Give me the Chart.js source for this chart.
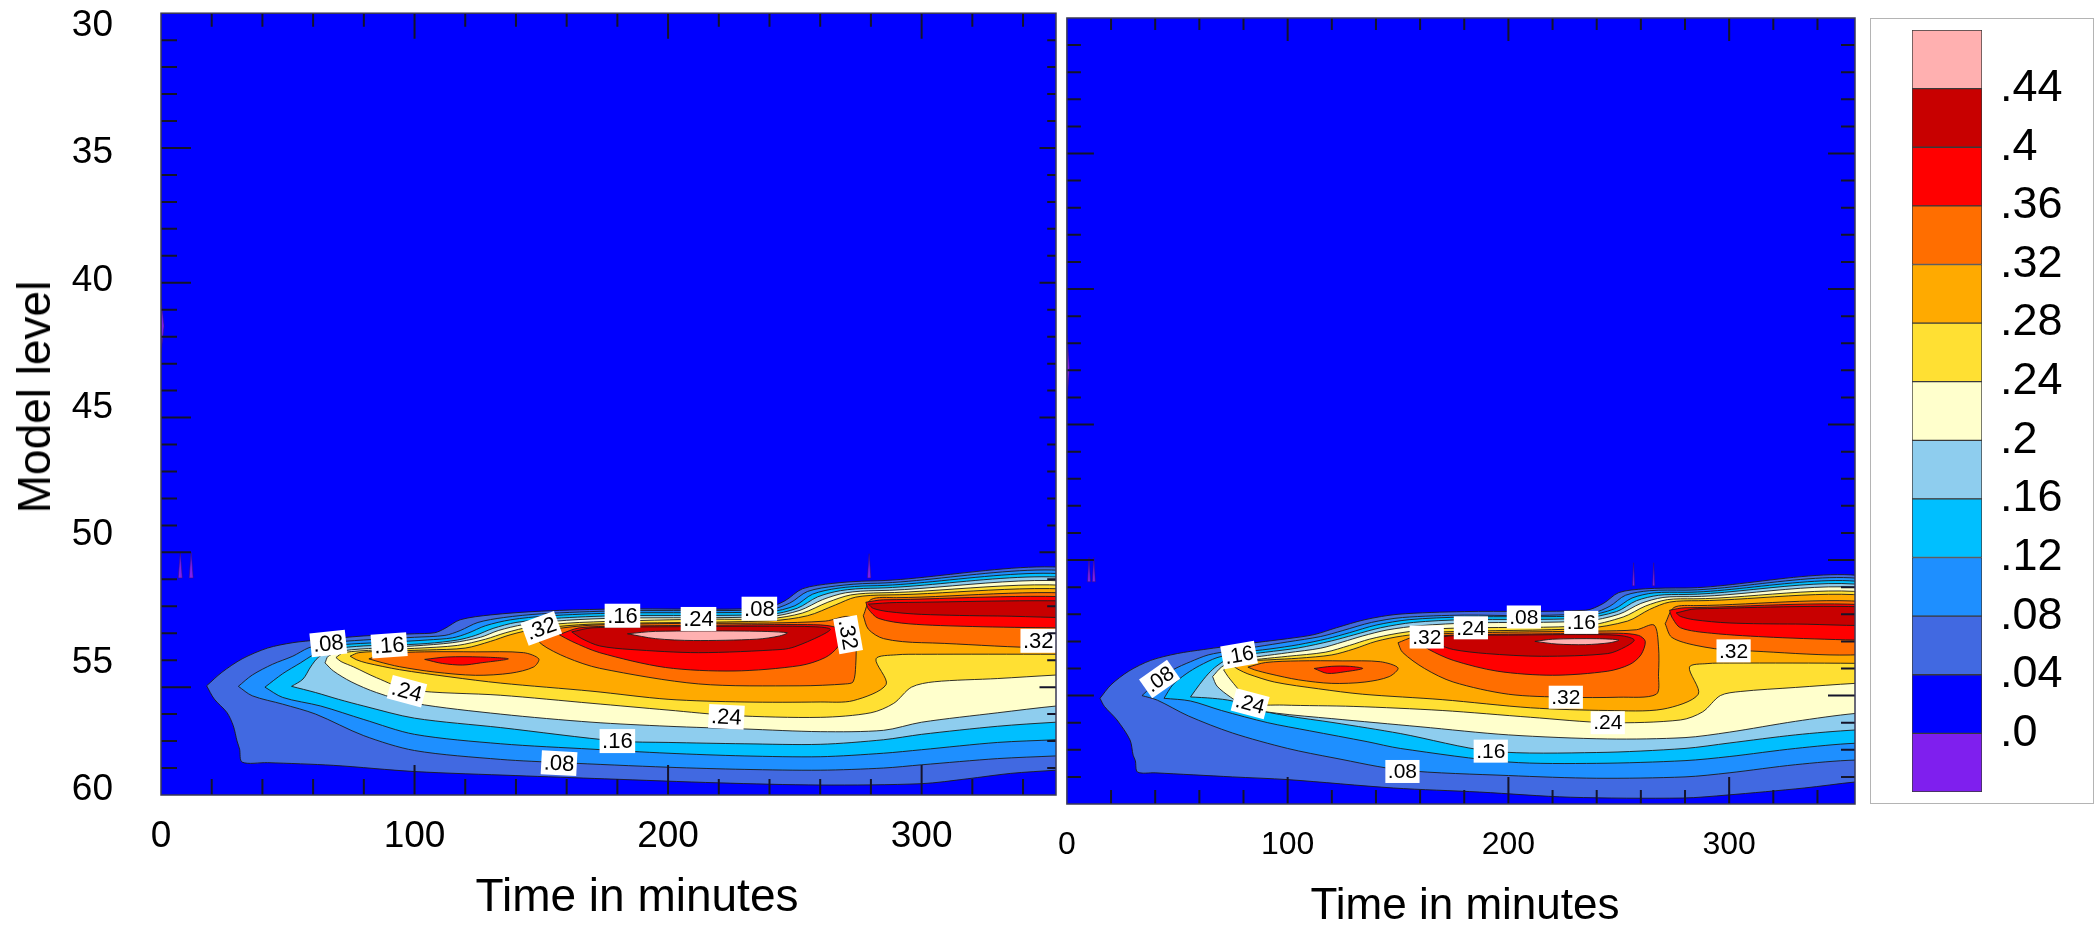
<!DOCTYPE html>
<html>
<head>
<meta charset="utf-8">
<script src="https://cdn.jsdelivr.net/npm/chart.js@4.4.1/dist/chart.umd.min.js"></script>
<style>
  body { margin: 0; width: 2095px; height: 926px; position: relative; overflow: hidden; background: #fff;
         font-family: "Liberation Sans", Arial, sans-serif; }
  canvas { position: absolute; }
  .ttl { position: absolute; white-space: nowrap; color: #000; line-height: 1; transform: translate(-50%, -50%); }
  #barbox { position: absolute; left: 1870px; top: 18px; width: 224px; height: 786px; box-sizing: border-box;
            border: 1.5px solid #b4b4b4; }
</style>
</head>
<body>
<canvas id="left" width="1062" height="926" style="left:0;top:0"></canvas>
<canvas id="right" width="830" height="926" style="left:1040px;top:0"></canvas>
<div id="barbox"></div>
<canvas id="bar" width="225" height="786" style="left:1870px;top:18px"></canvas>
<div class="ttl" style="left:34px;top:397px;font-size:46px;transform:translate(-50%,-50%) rotate(-90deg)">Model level</div>
<div class="ttl" style="left:637px;top:895px;font-size:46px">Time in minutes</div>
<div class="ttl" style="left:1465px;top:904px;font-size:44px">Time in minutes</div>
<script>
// contour levels (also the colour bar ticks) and the fill of each band, lowest first
const levels = [0, 0.04, 0.08, 0.12, 0.16, 0.2, 0.24, 0.28, 0.32, 0.36, 0.4, 0.44];
const bandColors = ['#7f1fee', '#0000ff', '#4169e1', '#1e8fff', '#00bfff', '#8ecdee',
                    '#ffffcc', '#ffe033', '#ffaa00', '#ff6e00', '#ff0000', '#c80000', '#ffb0b0'];
const timeTicks = [0, 100, 200, 300];
const levelTicks = [30, 35, 40, 45, 50, 55, 60];

// ---- left run: contour rings, [minutes, model level], region >= level ----
const L04 = [[18,54.95],[24,54.45],[32,53.95],[42,53.55],[52,53.35],[62,53.25],[80,53.1],[100,53.02],[108,52.98],[112,52.82],[118,52.5],[130,52.32],[150,52.18],[180,52.1],[238,52.07],[246,51.8],[253,51.35],[265,51.15],[280,51.06],[375,51.06],
  [375,57.95],[353,58.08],[335,58.2],[318,58.4],[300,58.58],[260,58.63],[220,58.55],[175,58.4],[140,58.28],[100,58.13],[68,57.9],[42,57.8],[32,57.78],[31,57.3],[30,57.0],[28.5,56.43],[26,55.94],[21,55.44]];
const L08 = [[30.5,54.97],[36,54.55],[44,54.15],[52,53.85],[58,53.55],[65,53.37],[80,53.25],[100,53.15],[112,53.08],[118,52.9],[125,52.6],[135,52.42],[150,52.28],[180,52.17],[240,52.12],[248,51.88],[255,51.45],[266,51.25],[280,51.15],[375,51.15],
  [375,57.45],[353,57.55],[330,57.65],[300,57.88],[285,58.0],[260,58.08],[230,58.05],[200,57.97],[158,57.8],[134,57.68],[100,57.35],[80,56.8],[61,56.0],[48,55.63],[36,55.32]];
const L12 = [[41,55.0],[48,54.5],[55,54.1],[60,53.8],[66,53.5],[75,53.4],[90,53.33],[105,53.25],[115,53.17],[121,53.0],[128,52.72],[138,52.5],[152,52.36],[180,52.25],[240,52.2],[250,51.98],[257,51.55],[267,51.33],[280,51.24],[375,51.24],
  [375,56.85],[353,56.95],[330,57.05],[300,57.32],[285,57.45],[260,57.58],[230,57.55],[200,57.45],[170,57.3],[134,57.1],[100,56.75],[80,56.2],[63,55.7],[48,55.38]];
const L16 = [[51.5,54.97],[56,54.7],[59,54.25],[62,53.9],[68,53.6],[80,53.47],[90,53.45],[105,53.38],[117,53.25],[124,53.08],[131,52.82],[140,52.6],[155,52.45],[180,52.35],[240,52.3],[251,52.07],[259,51.65],[268,51.42],[280,51.33],[375,51.33],
  [375,56.2],[353,56.3],[330,56.45],[300,56.75],[285,56.95],[260,57.12],[230,57.1],[200,57.05],[180,57.0],[134,56.5],[100,56.15],[80,55.7],[70,55.45],[61,55.2]];
const L20 = [[64.7,54.1],[66,53.85],[72,53.65],[85,53.55],[100,53.47],[115,53.35],[126,53.15],[133,52.9],[143,52.68],[160,52.52],[180,52.44],[240,52.38],[252,52.15],[261,51.75],[270,51.5],[282,51.42],[375,51.42],
  [375,55.55],[353,55.7],[330,55.95],[300,56.3],[285,56.6],[260,56.65],[230,56.55],[200,56.45],[170,56.3],[134,56.0],[100,55.6],[85,55.2],[75,54.8],[68,54.4]];
const L24 = [[69,53.9],[72,53.72],[85,53.62],[100,53.56],[117,53.45],[128,53.22],[136,52.98],[146,52.76],[165,52.6],[212,52.48],[240,52.46],[253,52.25],[263,51.85],[272,51.58],[284,51.5],[375,51.5],
  [375,54.45],[353,54.55],[330,54.68],[305,54.8],[296,55.0],[289,55.6],[280,55.95],[260,56.12],[225,56.05],[200,55.85],[170,55.6],[134,55.3],[98,55.1],[85,54.65],[76,54.25],[71,54.05]];
const L28 = [[74.6,53.85],[78,53.72],[90,53.66],[105,53.62],[120,53.55],[130,53.3],[138,53.05],[148,52.84],[170,52.66],[240,52.54],[255,52.35],[266,51.95],[274,51.66],[286,51.58],[375,51.58],
  [375,53.8],[353,53.78],[300,53.78],[290,53.8],[282,53.95],[286,54.9],[273,55.5],[260,55.55],[230,55.55],[200,55.45],[170,55.15],[134,54.85],[114,54.62],[94,54.35],[81,54.1],[77,53.98]];
const L32a = [[82,53.95],[89,53.76],[104,53.69],[124,53.69],[143,53.72],[149,53.95],[147,54.25],[138,54.48],[124,54.56],[108,54.44],[94,54.24],[86,54.06]];
const L32b = [[148,53.05],[155,52.85],[170,52.7],[200,52.64],[240,52.62],[262,52.55],[272,52.4],[274,53.2],[274,54.2],[273,54.8],[270,54.88],[252,54.95],[212,54.88],[173,54.3],[160,53.9],[150,53.4]];
const L32c = [[277,52.35],[280,51.75],[290,51.68],[375,51.68],[375,53.35],[300,53.35],[285,53.2],[279,52.85]];
const L36a = [[104,53.97],[113,53.88],[126,53.88],[137,53.95],[126,54.1],[119,54.18],[111,54.12]];
const L36b = [[157,53.05],[165,52.8],[180,52.74],[220,52.7],[255,52.68],[265,52.75],[269,53.0],[267,53.5],[262,53.9],[252,54.2],[226,54.4],[199,54.27],[173,53.72],[162,53.3]];
const L36c = [[278,51.85],[285,51.76],[375,51.76],[375,52.8],[353,52.8],[320,52.75],[295,52.65],[283,52.45],[279,52.1]];
const L40b = [[162,52.95],[170,52.8],[200,52.76],[240,52.74],[258,52.76],[264,52.85],[260,53.1],[250,53.5],[245,53.6],[212,53.72],[185,53.6],[173,53.47],[166,53.2]];
const L40c = [[279,51.92],[290,51.86],[375,51.86],[375,52.36],[330,52.36],[300,52.3],[287,52.2],[281,52.08]];
const L44 = [[184,53.02],[195,52.93],[230,52.92],[247,52.98],[244,53.1],[235,53.22],[210,53.27],[195,53.2]];
// small negative patches (below .0)
const leftDips = [
  [[0,40.6],[1.2,41.6],[0,42.6]],
  [[6.8,50.95],[7.6,50.0],[8.4,50.95]],
  [[11.1,50.95],[11.9,50.0],[12.7,50.95]],
  [[278.6,50.95],[279.3,50.05],[280,50.95]]
];
// contour labels: text, minutes, level, angle (deg)
const leftTags = [
  ['.08', 66, 53.38, -6], ['.16', 90, 53.45, -4], ['.32', 150, 52.82, -20], ['.16', 182, 52.35, 0],
  ['.24', 212, 52.47, 0], ['.08', 236, 52.09, 0], ['.32', 271, 53.05, 80], ['.32', 346, 53.28, 0],
  ['.24', 97, 55.15, 15], ['.24', 223, 56.1, 3], ['.16', 180, 57.0, 0], ['.08', 157, 57.82, 3]
];

// ---- right run ----
const R04 = [[15,55.1],[20,54.6],[28,54.1],[38,53.7],[50,53.45],[62,53.3],[80,53.1],[100,52.9],[112,52.75],[122,52.5],[135,52.2],[150,52.0],[180,51.9],[235,51.85],[243,51.6],[250,51.2],[262,51.06],[280,51.03],[375,51.03],
  [375,58.1],[357,58.19],[334,58.41],[299,58.67],[279,58.78],[228,58.75],[187,58.56],[148,58.41],[100,58.1],[75,58.0],[40,57.85],[32,57.82],[31,57.4],[30,57.2],[28.6,56.64],[22.7,55.9],[17,55.4]];
const R08 = [[34,55.0],[38,54.7],[42,54.4],[48,54.05],[56,53.75],[64,53.5],[74,53.35],[86,53.2],[100,53.02],[115,52.82],[125,52.6],[138,52.3],[152,52.12],[180,52.03],[207,52.05],[238,51.95],[246,51.7],[253,51.3],[264,51.13],[280,51.11],[375,51.11],
  [375,57.45],[357,57.38],[330,57.55],[300,57.85],[280,58.0],[240,58.05],[200,57.95],[152,57.75],[121,57.3],[100,56.95],[75,56.38],[55,55.75],[41,55.17]];
const R12 = [[44,55.1],[48,54.6],[54,54.2],[60,53.9],[68,53.6],[78,53.42],[92,53.28],[105,53.12],[118,52.9],[128,52.68],[140,52.4],[155,52.2],[180,52.1],[235,52.05],[248,51.8],[256,51.4],[266,51.21],[280,51.19],[375,51.19],
  [375,56.8],[357,56.76],[330,56.95],[300,57.25],[280,57.4],[240,57.5],[200,57.45],[151,56.95],[136,56.7],[110,56.3],[91,56.0],[70,55.55],[56,55.2]];
const R16 = [[56,55.05],[60,54.6],[64,54.2],[68,53.9],[74,53.6],[80,53.5],[90,53.4],[105,53.24],[120,52.98],[130,52.76],[142,52.5],[157,52.3],[180,52.2],[233,52.15],[249,51.9],[258,51.5],[268,51.3],[280,51.27],[375,51.27],
  [375,56.25],[357,56.27],[330,56.45],[300,56.75],[280,56.95],[240,57.1],[192,57.05],[151,56.4],[121,56.0],[100,55.75],[85,55.5],[75,55.2],[66,55.1]];
const R20 = [[66,54.3],[70,53.95],[76,53.7],[88,53.55],[100,53.42],[115,53.25],[125,53.02],[134,52.8],[145,52.58],[160,52.42],[183,52.32],[235,52.25],[250,52.0],[260,51.6],[270,51.38],[282,51.35],[375,51.35],
  [375,55.6],[357,55.66],[330,55.95],[300,56.35],[280,56.55],[245,56.6],[200,56.45],[160,56.15],[120,55.85],[95,55.65],[82,55.45],[74,55.05],[68,54.65]];
const R24 = [[71,54.05],[75,53.78],[88,53.65],[100,53.55],[117,53.4],[128,53.15],[137,52.92],[150,52.7],[165,52.55],[183,52.5],[235,52.42],[252,52.1],[262,51.7],[272,51.46],[284,51.43],[375,51.43],
  [375,54.5],[357,54.55],[330,54.7],[305,54.85],[296,55.0],[288,55.6],[278,55.9],[245,56.0],[210,55.8],[170,55.55],[130,55.4],[98,55.35],[83,55.28],[78,54.8],[73,54.3]];
const R28 = [[76,53.95],[80,53.75],[92,53.68],[105,53.62],[120,53.5],[130,53.28],[140,53.0],[152,52.8],[170,52.65],[235,52.52],[254,52.25],[264,51.82],[273,51.55],[286,51.5],[375,51.5],
  [375,53.85],[357,53.81],[300,53.8],[290,53.82],[282,53.95],[286,54.95],[270,55.5],[245,55.55],[210,55.45],[170,55.15],[134,54.95],[114,54.75],[94,54.5],[82,54.2],[78,54.05]];
const R32a = [[82,53.95],[90,53.78],[105,53.72],[125,53.72],[142,53.75],[150,53.98],[146,54.3],[135,54.5],[120,54.55],[105,54.42],[92,54.2],[85,54.05]];
const R32b = [[150,53.05],[157,52.84],[170,52.72],[200,52.66],[240,52.62],[258,52.57],[266,52.4],[268,53.2],[268,54.2],[267,54.95],[250,55.06],[226,55.06],[200,54.95],[175,54.5],[162,54.0],[152,53.4]];
const R32c = [[271,52.35],[275,51.75],[285,51.68],[375,51.68],[375,53.32],[302,53.33],[285,53.15],[274,52.85]];
const R36a = [[112,54.0],[120,53.92],[128,53.92],[134,54.0],[126,54.12],[118,54.18]];
const R36b = [[160,53.05],[168,52.82],[180,52.76],[220,52.72],[250,52.7],[259,52.78],[262,53.0],[260,53.5],[255,53.85],[245,54.1],[220,54.25],[195,54.1],[175,53.7],[164,53.3]];
const R36c = [[273,51.85],[280,51.76],[375,51.76],[375,52.95],[357,52.95],[320,52.85],[292,52.7],[278,52.5],[274,52.1]];
const R40b = [[165,52.95],[173,52.8],[200,52.77],[240,52.75],[252,52.8],[257,52.95],[253,53.2],[245,53.45],[215,53.55],[190,53.45],[175,53.3],[168,53.1]];
const R40c = [[276,51.95],[285,51.8],[375,51.78],[375,52.34],[330,52.36],[300,52.32],[284,52.2],[278,52.08]];
const R44 = [[212,53.0],[220,52.92],[240,52.9],[250,52.95],[246,53.05],[235,53.12],[222,53.1]];
const rightDips = [
  [[0,41.7],[1.2,42.9],[0,44.1]],
  [[9.3,50.8],[10,49.9],[10.7,50.8]],
  [[11.5,50.8],[12.2,49.9],[12.9,50.8]],
  [[256.2,50.95],[256.7,50.1],[257.2,50.95]],
  [[265.3,50.95],[265.8,50.1],[266.3,50.95]]
];
const rightTags = [
  ['.08', 42, 54.39, -35], ['.16', 78, 53.5, -10], ['.32', 163, 52.84, 0], ['.24', 183, 52.5, 0],
  ['.08', 207, 52.1, 0], ['.16', 233, 52.3, 0], ['.32', 302, 53.35, 0], ['.24', 83, 55.3, 15],
  ['.32', 226, 55.06, 0], ['.24', 245, 56.0, 0], ['.16', 192, 57.05, 0], ['.08', 152, 57.8, 0]
];

const leftRings = [[0.04, L04], [0.08, L08], [0.12, L12], [0.16, L16], [0.2, L20], [0.24, L24], [0.28, L28],
  [0.32, L32a], [0.32, L32b], [0.32, L32c], [0.36, L36a], [0.36, L36b], [0.36, L36c], [0.4, L40b], [0.4, L40c], [0.44, L44]];
const rightRings = [[0.04, R04], [0.08, R08], [0.12, R12], [0.16, R16], [0.2, R20], [0.24, R24], [0.28, R28],
  [0.32, R32a], [0.32, R32b], [0.32, R32c], [0.36, R36a], [0.36, R36b], [0.36, R36c], [0.4, R40b], [0.4, R40c], [0.44, R44]];

Chart.defaults.font.family = '"Liberation Sans", Arial, sans-serif';
Chart.defaults.color = '#000';

const colorOf = v => v < 0 ? bandColors[0] : bandColors[levels.indexOf(v) + 1];

// one closed, filled line per ring; higher levels are drawn on top
function ringDatasets(rings, dips) {
  const all = dips.map(p => [-1, p]).concat(rings);
  return all.map(([v, pts], i) => ({
    xAxisID: 'x', yAxisID: 'y',
    data: pts.concat([pts[0]]).map(([t, lv]) => ({ x: t, y: lv })),
    fill: 'shape',
    backgroundColor: colorOf(v),
    borderColor: v < 0 ? '#3a1070' : '#1c1c1c',
    borderWidth: v < 0 ? 0.5 : 0.9,
    pointRadius: 0,
    tension: v < 0 ? 0 : 0.3,
    order: all.length - i
  }));
}

// blue "0 - .04" background of the plot
const plotBg = {
  id: 'plotBg',
  beforeDatasetsDraw(chart) {
    const { ctx, chartArea: a } = chart;
    ctx.save();
    ctx.fillStyle = bandColors[1];
    ctx.fillRect(a.left, a.top, a.width, a.height);
    ctx.restore();
  }
};

// white boxed contour labels
const contourTags = {
  id: 'contourTags',
  afterDatasetsDraw(chart, args, opts) {
    const { ctx, chartArea: a, scales: { x, y } } = chart;
    ctx.save();
    ctx.beginPath();
    ctx.rect(a.left, a.top, a.width, a.height);
    ctx.clip();
    ctx.font = opts.size + 'px "Liberation Sans", Arial, sans-serif';
    ctx.textAlign = 'center';
    ctx.textBaseline = 'middle';
    for (const [txt, t, lv, ang] of opts.tags) {
      ctx.save();
      ctx.translate(x.getPixelForValue(t), y.getPixelForValue(lv));
      ctx.rotate(ang * Math.PI / 180);
      const w = ctx.measureText(txt).width + 5, h = opts.size + 2;
      ctx.fillStyle = '#fff';
      ctx.fillRect(-w / 2, -h / 2, w, h);
      ctx.fillStyle = '#000';
      ctx.fillText(txt, 0, 1);
      ctx.restore();
    }
    ctx.restore();
  }
};

// inward tick marks on all four sides and the frame
const frameTicks = {
  id: 'frameTicks',
  afterDraw(chart, args, o) {
    const { ctx, chartArea: a, scales: { x, y } } = chart;
    const seg = (x1, y1, x2, y2) => { ctx.moveTo(x1, y1); ctx.lineTo(x2, y2); };
    ctx.save();
    ctx.strokeStyle = '#14142a';
    ctx.lineWidth = 2;
    ctx.beginPath();
    for (let t = 20; t < x.max; t += 20) {
      const px = x.getPixelForValue(t), len = t % 100 === 0 ? o.major : o.minor;
      seg(px, a.bottom, px, a.bottom - len);
      seg(px, a.top, px, a.top + len * 0.85);
    }
    for (let lv = y.min + 1; lv < y.max; lv++) {
      const py = y.getPixelForValue(lv), len = lv % 5 === 0 ? o.major : o.minor;
      seg(a.left, py, a.left + len, py);
      seg(a.right, py, a.right - len * o.rightScale, py);
    }
    ctx.stroke();
    ctx.lineWidth = 1.5;
    ctx.strokeStyle = '#3a3a55';
    ctx.strokeRect(a.left, a.top, a.width, a.height);
    ctx.restore();
  }
};

function panelConfig(cfg) {
  const scales = {
    x: {
      type: 'linear', min: 0, max: cfg.tMax,
      afterBuildTicks: s => { s.ticks = timeTicks.map(v => ({ value: v })); },
      grid: { display: false, drawTicks: false }, border: { display: false },
      ticks: { font: { size: cfg.tickFont }, color: '#000', padding: cfg.xPad, maxRotation: 0, autoSkip: false },
      afterFit: s => { s.height = cfg.xHeight; }
    },
    y: { type: 'linear', min: 30, max: 59, reverse: true, display: false }
  };
  if (cfg.levelAxis) {
    scales.yl = {
      type: 'linear', position: 'left', min: 29.5, max: 60.2, reverse: true,
      afterBuildTicks: s => { s.ticks = levelTicks.map(v => ({ value: v })); },
      grid: { display: false, drawTicks: false }, border: { display: false },
      ticks: { font: { size: 37 }, color: '#000', padding: 48, autoSkip: false },
      afterFit: s => { s.width = cfg.levelAxis; }
    };
  }
  return {
    type: 'line',
    data: { datasets: ringDatasets(cfg.rings, cfg.dips) },
    options: {
      responsive: false, maintainAspectRatio: false, animation: false, events: [],
      layout: { autoPadding: false, padding: cfg.pad },
      plugins: {
        legend: { display: false }, tooltip: { enabled: false },
        contourTags: { tags: cfg.tags, size: cfg.tagFont },
        frameTicks: cfg.ticks
      },
      scales
    },
    plugins: [plotBg, contourTags, frameTicks]
  };
}

// build a chart, then resize and move its canvas so the plot area sits on the given page box
function mount(id, makeConfig, box) {
  const canvas = document.getElementById(id);
  let chart = new Chart(canvas, makeConfig());
  for (let pass = 0; pass < 2; pass++) {
    const a = chart.chartArea;
    const ml = a.left, mt = a.top, mr = canvas.width - a.right, mb = canvas.height - a.bottom;
    chart.destroy();
    canvas.width = Math.round(box.right - box.left + ml + mr);
    canvas.height = Math.round(box.bottom - box.top + mt + mb);
    canvas.style.left = Math.round(box.left - ml) + 'px';
    canvas.style.top = Math.round(box.top - mt) + 'px';
    chart = new Chart(canvas, makeConfig());
  }
  return chart;
}

mount('left', () => panelConfig({
  rings: leftRings, dips: leftDips, tags: leftTags, tMax: 353,
  pad: { left: 0, top: 13, right: 6, bottom: 0 }, levelAxis: 161,
  xHeight: 131, xPad: 20, tickFont: 37, tagFont: 22,
  ticks: { major: 30, minor: 16, rightScale: 0.55 }
}), { left: 161, top: 13, right: 1056, bottom: 795 });

mount('right', () => panelConfig({
  rings: rightRings, dips: rightDips, tags: rightTags, tMax: 357,
  pad: { left: 27, top: 18, right: 15, bottom: 0 }, levelAxis: 0,
  xHeight: 122, xPad: 22, tickFont: 32, tagFont: 21,
  ticks: { major: 27, minor: 14, rightScale: 1 }
}), { left: 1067, top: 18, right: 1855, bottom: 804 });

// colour bar: one floating bar per band between consecutive levels
const barEdges = [levels[0] - 0.04].concat(levels, [levels[levels.length - 1] + 0.04]);
mount('bar', () => ({
  type: 'bar',
  data: {
    labels: [''],
    datasets: bandColors.map((c, i) => ({
      data: [[barEdges[i], barEdges[i + 1]]],
      backgroundColor: c, borderColor: '#3a3a3a', borderWidth: 1, borderSkipped: false,
      barPercentage: 1, categoryPercentage: 1, grouped: false
    }))
  },
  options: {
    responsive: false, maintainAspectRatio: false, animation: false, events: [],
    layout: { autoPadding: false, padding: { left: 42, top: 12, right: 0, bottom: 12 } },
    plugins: { legend: { display: false }, tooltip: { enabled: false } },
    scales: {
      x: { display: false },
      y: {
        position: 'right', min: barEdges[0], max: barEdges[barEdges.length - 1],
        afterBuildTicks: s => { s.ticks = levels.map(v => ({ value: v })); },
        grid: { display: false, drawTicks: false }, border: { display: false },
        ticks: {
          font: { size: 45 }, color: '#000', padding: 18, autoSkip: false,
          callback: v => v === 0 ? '.0' : String(v).replace(/^0/, '')
        },
        afterFit: s => { s.width = 113; }
      }
    }
  }
}), { left: 1912, top: 30, right: 1982, bottom: 792 });
</script>
</body>
</html>
